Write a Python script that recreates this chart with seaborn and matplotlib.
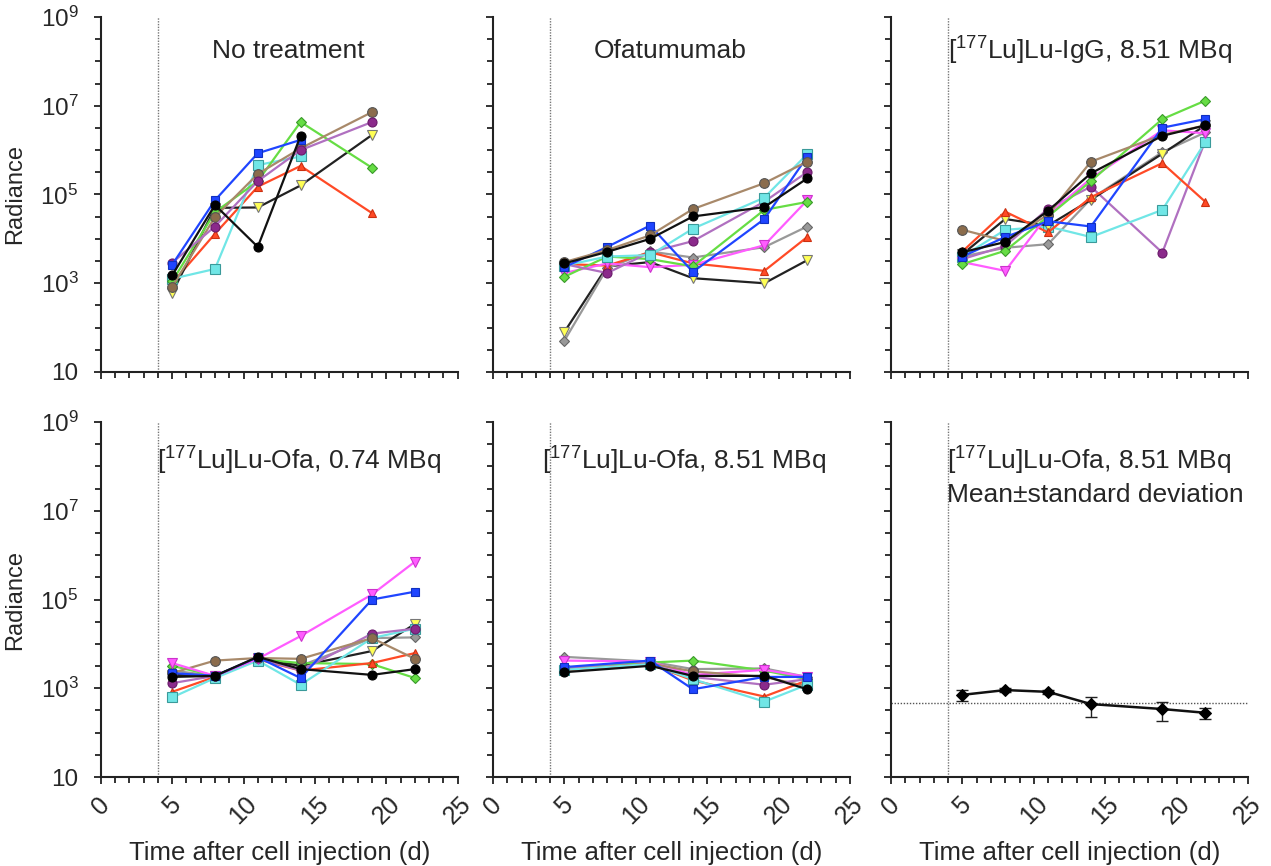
import numpy as np
import matplotlib
matplotlib.use("Agg")
import matplotlib.pyplot as plt
import matplotlib.ticker as mticker
import seaborn as sns

# ---- data (radiance, log-scale axes) ----
DAYS_A = [5, 8, 11, 14, 19]
DAYS_B = [5, 8, 11, 14, 19, 22]
DAYS_C = [5, 11, 14, 19, 22]

# No treatment
NT_BLUE = [2.6e3, 7.4e4, 8.5e5, 1.7e6, None]
NT_PURPLE = [2.9e3, 1.9e4, 2.0e5, 1.0e6, 4.3e6]
NT_BROWN = [8.3e2, 3.1e4, 2.9e5, 1.1e6, 7.2e6]
NT_BLACK = [1.5e3, 5.8e4, 6.6e3, 2.1e6, None]
NT_GREEN = [1.1e3, 4.0e4, 2.0e5, 4.3e6, 4.0e5]
NT_CYAN = [1.26e3, 2.1e3, 4.6e5, 7.2e5, None]
NT_RED = [1.0e3, 1.3e4, 1.5e5, 4.4e5, 3.8e4]
NT_YELLOW = [6.0e2, 5.0e4, 5.1e4, 1.6e5, 2.2e6]

# Ofatumumab
OF_BROWN = [3.0e3, 5.6e3, 1.2e4, 4.7e4, 1.8e5, 5.5e5]
OF_BLACK = [2.8e3, 5.1e3, 1.0e4, 3.2e4, 5.2e4, 2.3e5]
OF_BLUE = [2.3e3, 6.6e3, 2.0e4, 1.8e3, 2.8e4, 7.1e5]
OF_CYAN = [2.5e3, 4.0e3, 4.3e3, 1.7e4, 8.5e4, 8.1e5]
OF_PURPLE = [2.7e3, 1.7e3, 5.0e3, 8.9e3, 6.9e4, 3.2e5]
OF_GREEN = [1.4e3, 4.0e3, 3.5e3, 2.4e3, 4.5e4, 6.8e4]
OF_PINK = [1.7e3, 2.8e3, 2.3e3, 2.6e3, 7.2e3, 7.4e4]
OF_GREY = [51, 2.2e3, 5.2e3, 3.8e3, 6.5e3, 1.9e4]
OF_RED = [2.7e3, 2.5e3, 5.0e3, 2.8e3, 1.9e3, 1.1e4]
OF_YELLOW = [80, 2.4e3, 3.0e3, 1.3e3, 1.0e3, 3.3e3]

# [177Lu]Lu-IgG, 8.51 MBq
IG_BROWN = [1.6e4, 9.0e3, 3.5e4, 5.5e5, 2.2e6, 3.6e6]
IG_BLACK = [5.0e3, 8.5e3, 4.3e4, 3.0e5, 2.1e6, 3.6e6]
IG_RED = [5.2e3, 4.1e4, 1.4e4, 8.7e4, 5.1e5, 6.9e4]
IG_BLUE = [4.0e3, 1.1e4, 2.5e4, 1.9e4, 3.2e6, 5.0e6]
IG_GREEN = [2.7e3, 5.4e3, 3.2e4, 2.0e5, 5.0e6, 1.3e7]
IG_PINK = [3.0e3, 1.9e3, 3.5e4, 2.3e5, 2.8e6, 2.4e6]
IG_YELLOW = [4.5e3, 2.8e4, 2.0e4, 7.6e4, 8.3e5, 3.6e6]
IG_CYAN = [4.0e3, 1.6e4, 1.9e4, 1.1e4, 4.5e4, 1.5e6]
IG_PURPLE = [3.5e3, 6.9e3, 4.8e4, 1.5e5, 4.9e3, 1.6e6]
IG_GREY = [4.0e3, 6.3e3, 7.6e3, 8.0e4, 9.0e5, 2.5e6]

# [177Lu]Lu-Ofa, 0.74 MBq
LO_PINK = [3.7e3, 1.9e3, 4.6e3, 1.5e4, 1.3e5, 7.1e5]
LO_BLUE = [2.2e3, 1.9e3, 5.0e3, 1.7e3, 1.0e5, 1.5e5]
LO_BLACK = [1.8e3, 1.9e3, 5.1e3, 2.7e3, 2.0e3, 2.7e3]
LO_PURPLE = [1.3e3, 1.9e3, 4.8e3, 2.5e3, 1.7e4, 2.2e4]
LO_RED = [8.3e2, 1.8e3, 4.5e3, 2.5e3, 3.7e3, 6.2e3]
LO_CYAN = [6.2e2, 1.7e3, 4.2e3, 1.2e3, 1.35e4, 2.2e4]
LO_BROWN = [2.2e3, 4.2e3, 4.8e3, 4.6e3, 1.35e4, 4.6e3]
LO_GREEN = [3.2e3, 1.9e3, 4.5e3, 3.7e3, 3.5e3, 1.7e3]
LO_YELLOW = [2.0e3, 1.9e3, 4.8e3, 3.2e3, 6.9e3, 2.8e4]
LO_GREY = [2.5e3, 1.9e3, 4.6e3, 3.2e3, 1.35e4, 1.4e4]

# [177Lu]Lu-Ofa, 8.51 MBq
HO_GREY = [5.1e3, 4.0e3, 2.7e3, 2.8e3, 1.8e3]
HO_PINK = [4.2e3, 4.0e3, 2.0e3, 2.6e3, 1.8e3]
HO_BLUE = [3.0e3, 4.2e3, 9.5e2, 1.8e3, 1.8e3]
HO_CYAN = [2.6e3, 3.5e3, 1.6e3, 5.0e2, 1.2e3]
HO_BLACK = [2.3e3, 3.2e3, 1.9e3, 1.9e3, 9.5e2]
HO_GREEN = [2.8e3, 3.8e3, 4.2e3, 2.5e3, 1.6e3]
HO_RED = [2.6e3, 3.5e3, 1.5e3, 6.5e2, 1.5e3]
HO_PURPLE = [2.75e3, 3.5e3, 1.8e3, 1.2e3, 1.6e3]
HO_BROWN = [2.5e3, 3.6e3, 2.4e3, 1.8e3, 1.1e3]

# [177Lu]Lu-Ofa, 8.51 MBq, mean +/- SD
MEAN_VAL = [7.1e2, 9.1e2, 8.3e2, 4.4e2, 3.4e2, 2.8e2]
MEAN_LOW = [5.2e2, 8.2e2, 7.4e2, 2.3e2, 1.8e2, 2.0e2]
MEAN_HIGH = [9.1e2, 1.0e3, 9.1e2, 6.3e2, 5.0e2, 3.5e2]
BASELINE = 4.6e2

INJECTION_DAY = 4
Y_TICKS = [10, 1e3, 1e5, 1e7, 1e9]
Y_TICK_LABELS = ["10", "10$^3$", "10$^5$", "10$^7$", "10$^9$"]
X_TICKS = [0, 5, 10, 15, 20, 25]

SERIES_STYLE = {
    "blue": dict(line="#1f45ff", marker="s", face="#1f45ff", edge="#1030c0", ms=6),
    "purple": dict(line="#b070c0", marker="o", face="#8b2a8b", edge="#6a1a6a", ms=6.5),
    "brown": dict(line="#a8896a", marker="o", face="#8b6c4c", edge="#555555", ms=7),
    "black": dict(line="#111111", marker="o", face="#000000", edge="#000000", ms=6.5),
    "green": dict(line="#66dd44", marker="D", face="#66dd44", edge="#3a9a2a", ms=5),
    "cyan": dict(line="#70e6e6", marker="s", face="#70e6e6", edge="#3a9a9a", ms=6.5),
    "red": dict(line="#ff4a26", marker="^", face="#ff4a26", edge="#cc3010", ms=6),
    "yellow": dict(line="#222222", marker="v", face="#ffff55", edge="#777777", ms=7),
    "grey": dict(line="#999999", marker="D", face="#999999", edge="#666666", ms=5),
    "pink": dict(line="#ff5cff", marker="v", face="#ff5cff", edge="#cc33cc", ms=6.5),
}

sns.set_style("ticks")
plt.rcParams["font.family"] = ["Liberation Sans", "DejaVu Sans"]
plt.rcParams["mathtext.fontset"] = "custom"
plt.rcParams["mathtext.rm"] = "Liberation Sans"
plt.rcParams["mathtext.it"] = "Liberation Sans:italic"
plt.rcParams["mathtext.bf"] = "Liberation Sans:bold"
plt.rcParams["font.size"] = 17

W, H = 1271, 866


def draw_series(ax, days, values, key):
    st = SERIES_STYLE[key]
    y = np.array(values, dtype=float)
    x = np.array(days, dtype=float)
    keep = ~np.isnan(y)
    sns.lineplot(x=x[keep], y=y[keep], ax=ax, color=st["line"], linewidth=1.6,
                 marker=st["marker"], markersize=st["ms"], markerfacecolor=st["face"],
                 markeredgecolor=st["edge"], markeredgewidth=0.8,
                 estimator=None, sort=False, legend=False)


def style_axes(ax, show_x, show_y):
    ax.set_yscale("log")
    ax.set_ylim(10, 1e9)
    ax.set_xlim(0, 25)
    ax.axvline(INJECTION_DAY, color="#777777", linestyle=(0, (1, 1)), linewidth=1.0, zorder=0)
    ax.yaxis.set_major_locator(mticker.FixedLocator(Y_TICKS))
    ax.yaxis.set_minor_locator(mticker.FixedLocator([10 ** (1 + 0.5 * k) for k in range(17)]))
    ax.yaxis.set_minor_formatter(mticker.NullFormatter())
    ax.xaxis.set_major_locator(mticker.FixedLocator(X_TICKS))
    ax.xaxis.set_minor_locator(mticker.MultipleLocator(1))
    if show_y:
        ax.set_yticklabels(Y_TICK_LABELS, fontsize=17.5)
        ax.set_ylabel("Radiance", fontsize=17, labelpad=10)
    else:
        ax.set_yticklabels([])
        ax.set_ylabel("")
    if show_x:
        ax.set_xticklabels([str(t) for t in X_TICKS], rotation=45, ha="center", fontsize=18)
        ax.set_xlabel("Time after cell injection (d)", fontsize=18.5, labelpad=9)
    else:
        ax.set_xticklabels([])
        ax.set_xlabel("")
    ax.tick_params(which="both", direction="out", width=1.3, color="#222222")
    ax.tick_params(axis="y", which="major", length=5, pad=11)
    ax.tick_params(axis="x", which="major", length=5, pad=6)
    ax.tick_params(which="minor", length=4)
    for side in ["top", "right"]:
        ax.spines[side].set_visible(False)
    for side in ["left", "bottom"]:
        ax.spines[side].set_linewidth(1.5)
        ax.spines[side].set_color("#222222")


fig = plt.figure(figsize=(W / 100, H / 100), dpi=100)
col_left = [100.7, 493, 891]
row_top = [17, 422]
panel_w, panel_h = 357, 355
axes = np.empty((2, 3), dtype=object)
for r in range(2):
    for c in range(3):
        axes[r, c] = fig.add_axes([col_left[c] / W, 1 - (row_top[r] + panel_h) / H,
                                   panel_w / W, panel_h / H])
        axes[r, c].set_yscale("log")

# No treatment
ax = axes[0, 0]
for key, vals in [("red", NT_RED), ("yellow", NT_YELLOW), ("cyan", NT_CYAN), ("green", NT_GREEN),
                  ("brown", NT_BROWN), ("purple", NT_PURPLE), ("blue", NT_BLUE), ("black", NT_BLACK)]:
    draw_series(ax, DAYS_A, vals, key)

# Ofatumumab
ax = axes[0, 1]
for key, vals in [("yellow", OF_YELLOW), ("grey", OF_GREY), ("red", OF_RED), ("pink", OF_PINK),
                  ("green", OF_GREEN), ("purple", OF_PURPLE), ("cyan", OF_CYAN), ("blue", OF_BLUE),
                  ("brown", OF_BROWN), ("black", OF_BLACK)]:
    draw_series(ax, DAYS_B, vals, key)

# IgG
ax = axes[0, 2]
for key, vals in [("grey", IG_GREY), ("purple", IG_PURPLE), ("cyan", IG_CYAN), ("yellow", IG_YELLOW),
                  ("red", IG_RED), ("pink", IG_PINK), ("green", IG_GREEN), ("brown", IG_BROWN),
                  ("blue", IG_BLUE), ("black", IG_BLACK)]:
    draw_series(ax, DAYS_B, vals, key)

# Lu-Ofa 0.74
ax = axes[1, 0]
for key, vals in [("grey", LO_GREY), ("yellow", LO_YELLOW), ("green", LO_GREEN), ("red", LO_RED),
                  ("cyan", LO_CYAN), ("purple", LO_PURPLE), ("brown", LO_BROWN), ("pink", LO_PINK),
                  ("blue", LO_BLUE), ("black", LO_BLACK)]:
    draw_series(ax, DAYS_B, vals, key)

# Lu-Ofa 8.51
ax = axes[1, 1]
for key, vals in [("grey", HO_GREY), ("green", HO_GREEN), ("pink", HO_PINK), ("brown", HO_BROWN),
                  ("purple", HO_PURPLE), ("red", HO_RED), ("cyan", HO_CYAN), ("blue", HO_BLUE),
                  ("black", HO_BLACK)]:
    draw_series(ax, DAYS_C, vals, key)

# Mean +/- SD
ax = axes[1, 2]
mean = np.array(MEAN_VAL)
yerr = np.vstack([mean - np.array(MEAN_LOW), np.array(MEAN_HIGH) - mean])
ax.axhline(BASELINE, color="#555555", linestyle=(0, (1, 1.2)), linewidth=1.0, zorder=0)
ax.errorbar(DAYS_B, mean, yerr=yerr, fmt="none", ecolor="#222222", elinewidth=1.0,
            capsize=4, capthick=1.0)
sns.lineplot(x=DAYS_B, y=mean, ax=ax, color="#111111", linewidth=1.8, marker="D",
             markersize=6, markerfacecolor="#000000", markeredgecolor="#000000",
             estimator=None, sort=False, legend=False)

for r in range(2):
    for c in range(3):
        style_axes(axes[r, c], show_x=(r == 1), show_y=(c == 0))

title_kw = dict(fontsize=19, ha="center", va="center")
axes[0, 0].text(0.525, 0.905, "No treatment", transform=axes[0, 0].transAxes, **title_kw)
axes[0, 1].text(0.495, 0.905, "Ofatumumab", transform=axes[0, 1].transAxes, **title_kw)
axes[0, 2].text(0.557, 0.905, "[$^{177}$Lu]Lu-IgG, 8.51 MBq", transform=axes[0, 2].transAxes, **title_kw)
axes[1, 0].text(0.555, 0.89, "[$^{177}$Lu]Lu-Ofa, 0.74 MBq", transform=axes[1, 0].transAxes, **title_kw)
axes[1, 1].text(0.536, 0.89, "[$^{177}$Lu]Lu-Ofa, 8.51 MBq", transform=axes[1, 1].transAxes, **title_kw)
axes[1, 2].text(0.157, 0.89, "[$^{177}$Lu]Lu-Ofa, 8.51 MBq", transform=axes[1, 2].transAxes,
                fontsize=19, ha="left", va="center")
axes[1, 2].text(0.157, 0.795, "Mean\u00b1standard deviation", transform=axes[1, 2].transAxes,
                fontsize=19, ha="left", va="center")

fig.savefig("out.png", dpi=100)
